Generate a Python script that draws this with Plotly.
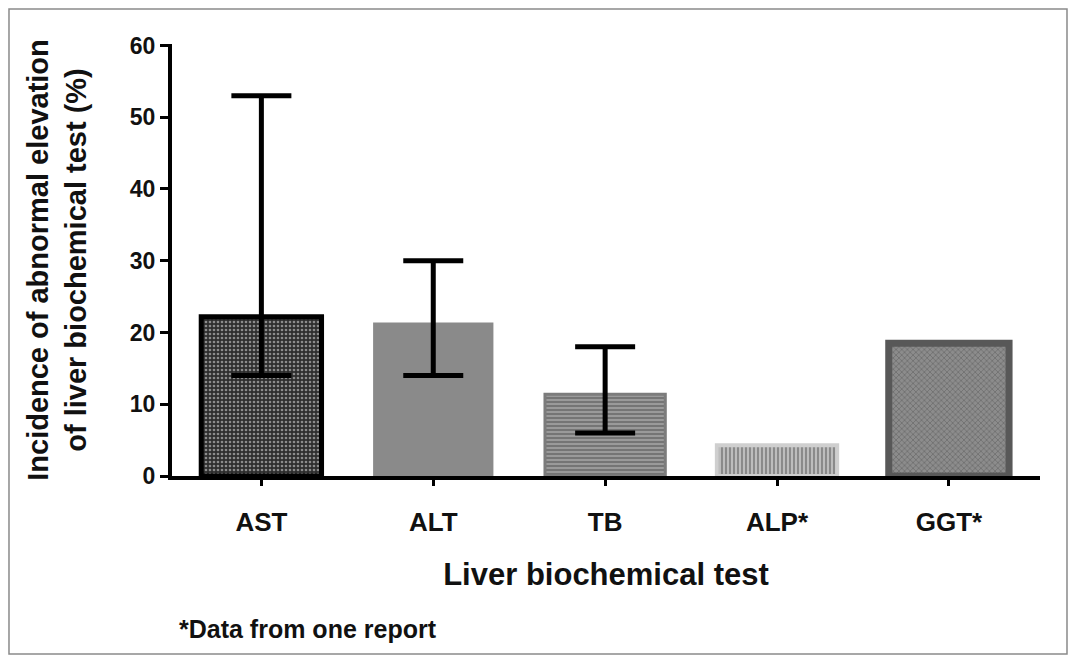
import plotly.graph_objects as go

categories = ["AST", "ALT", "TB", "ALP*", "GGT*"]
incidence = [22.2, 21.4, 11.4, 4.3, 18.5]
range_low = [14.0, 14.0, 6.0, None, None]
range_high = [53.0, 30.0, 18.0, None, None]
y_ticks = [0, 10, 20, 30, 40, 50, 60]

FONT = "Liberation Sans, Arial, Helvetica, sans-serif"

styles = [
    dict(shape=".", bg="#2e2e2e", fg="#8c8c8c", size=4, sol=0.35, line="#000000", lw=5),
    dict(shape="", bg="#8a8a8a", fg="#8a8a8a", size=4, sol=0.3, line="#8a8a8a", lw=0),
    dict(shape="-", bg="#9a9a9a", fg="#6c6c6c", size=4, sol=0.4, line="#7c7c7c", lw=3),
    dict(shape="|", bg="#bdbdbd", fg="#858585", size=4, sol=0.45, line="#cfcfcf", lw=4),
    dict(shape="x", bg="#8c8c8c", fg="#5e5e5e", size=4, sol=0.25, line="#585858", lw=7),
]

fig = go.Figure()
for i, cat in enumerate(categories):
    s = styles[i]
    err = None
    if range_low[i] is not None:
        err = dict(type="data", symmetric=False,
                   array=[range_high[i] - incidence[i]],
                   arrayminus=[incidence[i] - range_low[i]],
                   color="#000000", thickness=5, width=30)
    fig.add_trace(go.Bar(
        x=[cat], y=[incidence[i]], width=0.7,
        marker=dict(color=s["bg"],
                    pattern=dict(shape=s["shape"], bgcolor=s["bg"], fgcolor=s["fg"],
                                 size=s["size"], solidity=s["sol"], fillmode="replace"),
                    line=dict(color=s["line"], width=s["lw"])),
        error_y=err, showlegend=False, hoverinfo="skip",
    ))

fig.update_layout(
    width=1060, height=647,
    margin=dict(l=164, r=28, t=36, b=179),
    paper_bgcolor="white", plot_bgcolor="white",
    font=dict(family=FONT, color="#111111"),
    xaxis=dict(
        type="category", range=[-0.52, 4.53],
        showline=True, linecolor="#000000", linewidth=4,
        ticks="outside", ticklen=6, tickwidth=3, tickcolor="#000000",
        ticklabelstandoff=14,
        tickfont=dict(family=FONT, size=26, weight="bold"),
        title=dict(text="Liver biochemical test", standoff=28,
                   font=dict(family=FONT, size=31, weight="bold")),
        showgrid=False, zeroline=False,
    ),
    yaxis=dict(
        range=[0, 60.2], tickvals=y_ticks,
        showline=True, linecolor="#000000", linewidth=4,
        ticks="outside", ticklen=8, tickwidth=3, tickcolor="#000000",
        tickfont=dict(family=FONT, size=23, weight="bold"),
        title=dict(text="Incidence of abnormal elevation<br>of liver biochemical test (%)",
                   standoff=36, font=dict(family=FONT, size=29, weight="bold")),
        showgrid=False, zeroline=False,
    ),
    annotations=[dict(
        text="*Data from one report", xref="paper", yref="paper",
        x=0.006, y=-0.354, xanchor="left", yanchor="middle", showarrow=False,
        font=dict(family=FONT, size=25, weight="bold", color="#111111"),
    )],
    shapes=[dict(type="rect", xref="paper", yref="paper",
                 x0=-0.1878, x1=1.0311, y0=-0.412, y1=1.081,
                 line=dict(color="#8a8a8a", width=1.5), fillcolor="rgba(0,0,0,0)",
                 layer="below")],
)

fig.write_html("out.html")
